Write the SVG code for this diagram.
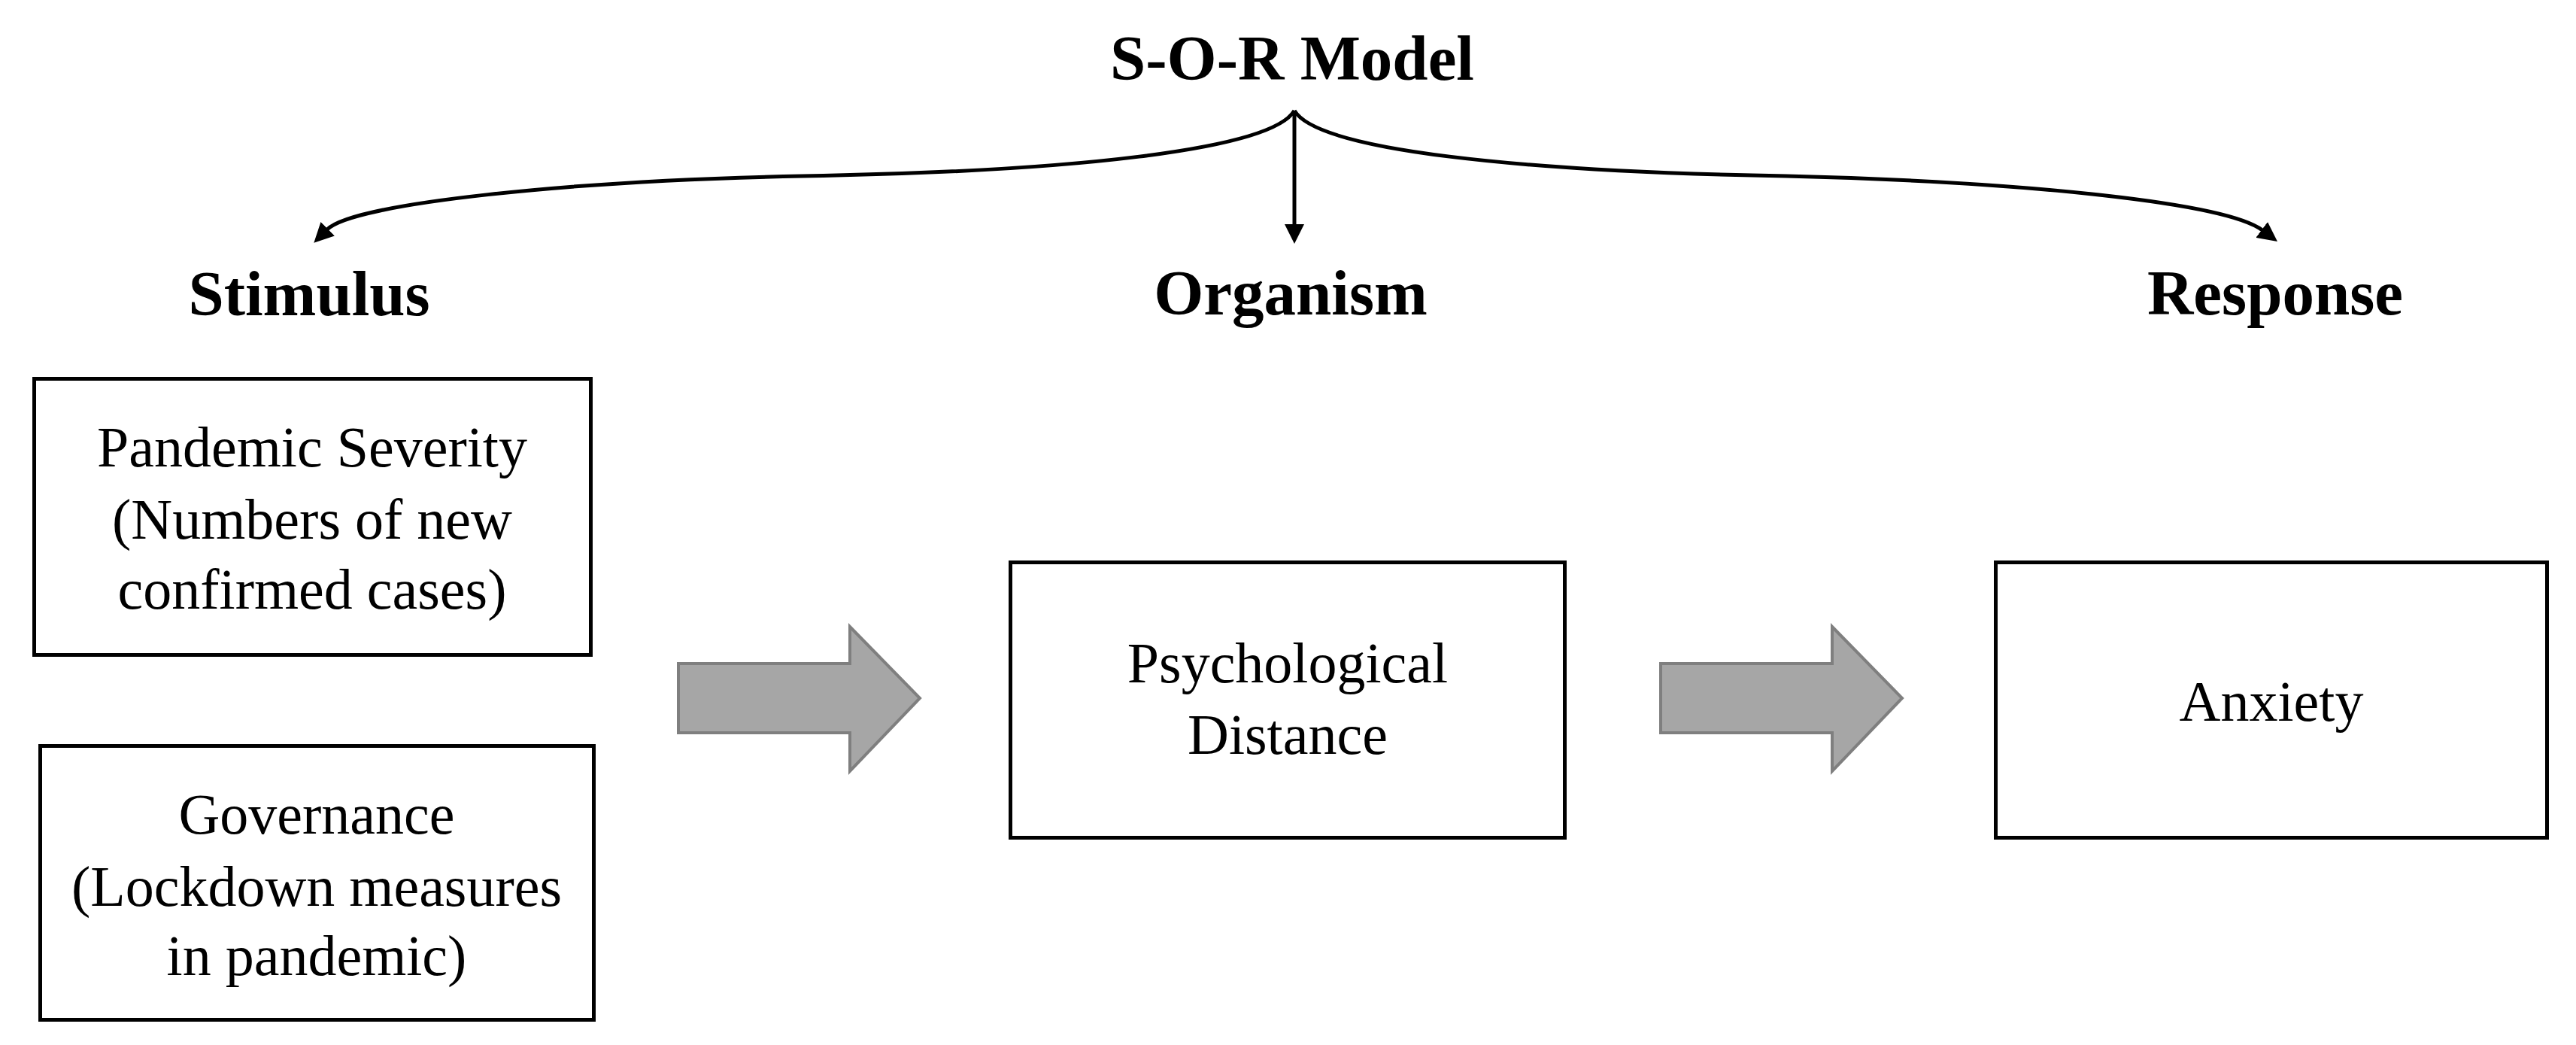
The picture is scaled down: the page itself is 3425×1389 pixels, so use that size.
<svg xmlns="http://www.w3.org/2000/svg" width="3425" height="1389" viewBox="0 0 3425 1389">
  <style>
    .hdr { font-family: "Liberation Serif", "Times New Roman", serif; font-weight: bold; font-size: 85px; fill: #000; text-anchor: middle; }
    .lbl { font-family: "Liberation Serif", "Times New Roman", serif; font-size: 76px; fill: #000; text-anchor: middle; }
    .box { fill: #fff; stroke: #000; stroke-width: 5; }
    .blk { fill: #a6a6a6; stroke: #7f7f7f; stroke-width: 4; stroke-linejoin: miter; }
    .con { fill: none; stroke: #000; stroke-width: 5; }
  </style>
  <defs>
    <marker id="ah" markerUnits="userSpaceOnUse" viewBox="0 0 26 26" markerWidth="26" markerHeight="26" refX="1" refY="13" orient="auto">
      <path d="M0,0 L26,13 L0,26 z" fill="#000"/>
    </marker>
  </defs>
  <rect width="3425" height="1389" fill="#fff"/>

  <g id="title">
    <text class="hdr" x="1718" y="106">S-O-R Model</text>
  </g>
  <g id="stimulus-label">
    <text class="hdr" x="411" y="419">Stimulus</text>
  </g>
  <g id="organism-label">
    <text class="hdr" x="1716" y="418">Organism</text>
  </g>
  <g id="response-label">
    <text class="hdr" x="3025" y="418">Response</text>
  </g>

  <g id="connectors">
    <path class="con" d="M1721,147 C1690,200 1420,228 1067,234 C760,240 470,270 435,305" marker-end="url(#ah)"/>
    <path class="con" d="M1721,147 L1721,299" marker-end="url(#ah)"/>
    <path class="con" d="M1721,147 C1752,200 2022,228 2375,234 C2700,242 2960,270 3008,306" marker-end="url(#ah)"/>
    <polygon id="block-arrow-1" class="blk" points="902,882 1130,882 1130,833 1223,928 1130,1025 1130,974 902,974"/>
    <polygon id="block-arrow-2" class="blk" points="2208,882 2436,882 2436,833 2529,928 2436,1025 2436,974 2208,974"/>
  </g>

  <g id="pandemic-severity">
    <rect class="box" x="45.5" y="503.5" width="740" height="367"/>
    <text class="lbl" x="415" y="620">Pandemic Severity</text>
    <text class="lbl" x="415" y="716">(Numbers of new</text>
    <text class="lbl" x="415" y="809">confirmed cases)</text>
  </g>
  <g id="governance">
    <rect class="box" x="53.5" y="991.5" width="736" height="364"/>
    <text class="lbl" x="421" y="1108">Governance</text>
    <text class="lbl" x="421" y="1204">(Lockdown measures</text>
    <text class="lbl" x="421" y="1296">in pandemic)</text>
  </g>
  <g id="psychological-distance">
    <rect class="box" x="1343.5" y="747.5" width="737" height="366"/>
    <text class="lbl" x="1712" y="907">Psychological</text>
    <text class="lbl" x="1712" y="1002">Distance</text>
  </g>
  <g id="anxiety">
    <rect class="box" x="2653.5" y="747.5" width="733" height="366"/>
    <text class="lbl" x="3020" y="958">Anxiety</text>
  </g>
</svg>
